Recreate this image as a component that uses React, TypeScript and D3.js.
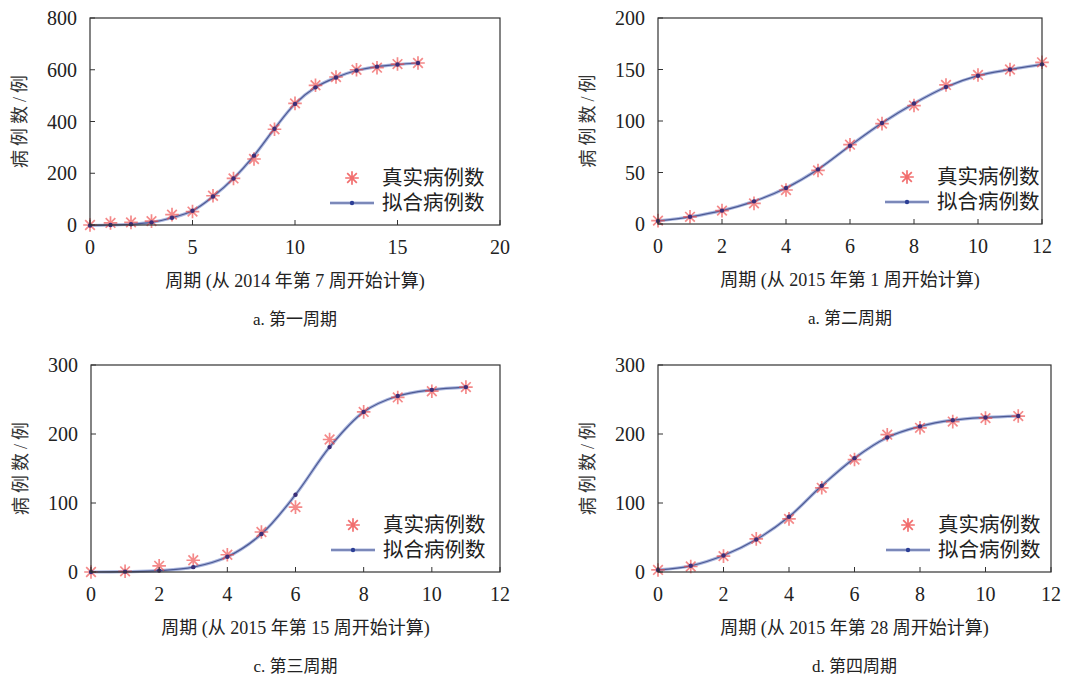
import React from "react";
import * as d3 from "d3";

// ---------- data ----------
const weeksA = d3.range(0, 17);
const realA = [0, 8, 10, 15, 40, 52, 113, 180, 255, 370, 470, 540, 572, 600, 608, 622, 626];
const fitA = [-2, 0, 3, 10, 28, 55, 110, 180, 268, 372, 468, 532, 570, 597, 612, 620, 626];

const weeksB = d3.range(0, 13);
const realB = [3.3, 7, 13, 20, 33, 52, 77, 97.5, 115, 135, 144.7, 150, 157];
const fitB = [3, 7, 13, 22, 35, 53, 76, 98, 117, 133, 144, 150, 155];

const weeksC = d3.range(0, 12);
const realC = [0, 1, 9, 17, 25, 58, 94, 192, 232, 253, 262, 268];
const fitC = [0, 0.5, 2, 7, 22, 55, 112, 181, 232, 255, 264, 268];

const weeksD = d3.range(0, 12);
const realD = [3, 8, 23, 48, 77, 122, 163, 199, 209, 218, 223, 226];
const fitD = [3, 9, 24, 47, 80, 125, 165, 195, 211, 220, 224, 226];

const xTicksA = [0, 5, 10, 15, 20];
const xTicks12 = [0, 2, 4, 6, 8, 10, 12];
const yTicksA = [0, 200, 400, 600, 800];
const yTicksB = [0, 50, 100, 150, 200];
const yTicks300 = [0, 100, 200, 300];

const xTitles = [
  "周期 (从 2014 年第 7 周开始计算)",
  "周期 (从 2015 年第 1 周开始计算)",
  "周期 (从 2015 年第 15 周开始计算)",
  "周期 (从 2015 年第 28 周开始计算)",
];
const captions = ["a. 第一周期", "a. 第二周期", "c. 第三周期", "d. 第四周期"];
const yTitle = "病例数/例";
const legendLabels = ["真实病例数", "拟合病例数"];

const FONT = '"Liberation Serif", "Times New Roman", "Noto Sans CJK SC", serif';

type PanelProps = {
  left: number; top: number; right: number; bottom: number;
  xMax: number; yMax: number;
  xTicks: number[]; yTicks: number[];
  weeks: number[]; real: number[]; fit: number[];
  xTitle: string; caption: string; legendX: number;
};

function starPath(cx: number, cy: number, r: number) {
  const parts: string[] = [];
  for (let i = 0; i < 4; i++) {
    const a = (i * Math.PI) / 4;
    const dx = r * Math.cos(a), dy = r * Math.sin(a);
    parts.push(`M${cx - dx},${cy - dy}L${cx + dx},${cy + dy}`);
  }
  return parts.join("");
}

function Panel(p: PanelProps) {
  const x = d3.scaleLinear().domain([0, p.xMax]).range([p.left, p.right]);
  const y = d3.scaleLinear().domain([0, p.yMax]).range([p.bottom, p.top]);
  const line = d3
    .line<number>()
    .x((_, i) => x(p.weeks[i]))
    .y((d) => y(d))
    .curve(d3.curveCatmullRom.alpha(0.5));
  const path = line(p.fit) || "";
  const axisColor = "#333";
  const cx = (p.left + p.right) / 2;
  const lx = p.legendX;
  return (
    <g fontFamily={FONT}>
      <path d={path} fill="none" stroke="#aab6de" strokeWidth={3.2} />
      <path d={path} fill="none" stroke="#4d5a94" strokeWidth={1.2} />
      {p.real.map((v, i) => (
        <path key={"s" + i} d={starPath(x(p.weeks[i]), y(v), 6.8)} stroke="#ee4a4a" strokeOpacity={0.65} strokeWidth={1.7} fill="none" />
      ))}
      {p.fit.map((v, i) => (
        <circle key={"c" + i} cx={x(p.weeks[i])} cy={y(v)} r={2.2} fill="#3b2f78" />
      ))}
      <rect x={p.left} y={p.top} width={p.right - p.left} height={p.bottom - p.top} fill="none" stroke={axisColor} strokeWidth={1.2} />
      {p.xTicks.map((t) => (
        <g key={"xt" + t}>
          <line x1={x(t)} x2={x(t)} y1={p.bottom} y2={p.bottom - 5} stroke={axisColor} strokeWidth={1} />
          <text x={x(t)} y={p.bottom + 29} textAnchor="middle" fontSize={20} fill="#222">{t}</text>
        </g>
      ))}
      {p.yTicks.map((t) => (
        <g key={"yt" + t}>
          <line x1={p.left} x2={p.left + 5} y1={y(t)} y2={y(t)} stroke={axisColor} strokeWidth={1} />
          <text x={p.left - 13} y={y(t) + 7} textAnchor="end" fontSize={20} fill="#222">{t}</text>
        </g>
      ))}
      <text x={cx} y={p.bottom + 62} textAnchor="middle" fontSize={18} fill="#222">{p.xTitle}</text>
      <text x={cx} y={p.bottom + 100} textAnchor="middle" fontSize={17} fill="#222">{p.caption}</text>
      <text transform={`translate(${p.left - 64},${(p.top + p.bottom) / 2 - 2}) rotate(-90)`} textAnchor="middle" fontSize={18} letterSpacing={4} fill="#333">{yTitle}</text>
      <path d={starPath(lx, p.bottom - 47, 6.8)} stroke="#ee4a4a" strokeOpacity={0.8} strokeWidth={1.7} fill="none" />
      <text x={lx + 30} y={p.bottom - 40} fontSize={20.5} fill="#222">{legendLabels[0]}</text>
      <line x1={lx - 22} x2={lx + 22} y1={p.bottom - 22} y2={p.bottom - 22} stroke="#aab6de" strokeWidth={3.2} />
      <line x1={lx - 22} x2={lx + 22} y1={p.bottom - 22} y2={p.bottom - 22} stroke="#4d5a94" strokeWidth={1.2} />
      <circle cx={lx} cy={p.bottom - 22} r={2.2} fill="#2d3f96" />
      <text x={lx + 30} y={p.bottom - 15} fontSize={20.5} fill="#222">{legendLabels[1]}</text>
    </g>
  );
}

export default function App() {
  return (
    <svg width={1086} height={677} style={{ position: "absolute", left: 0, top: 0, background: "#fff" }}>
      <rect width={1086} height={677} fill="#fff" />
      <Panel left={90} top={18} right={500} bottom={225} xMax={20} yMax={800} xTicks={xTicksA} yTicks={yTicksA}
        weeks={weeksA} real={realA} fit={fitA} xTitle={xTitles[0]} caption={captions[0]} legendX={352} />
      <Panel left={658} top={18} right={1042} bottom={224} xMax={12} yMax={200} xTicks={xTicks12} yTicks={yTicksB}
        weeks={weeksB} real={realB} fit={fitB} xTitle={xTitles[1]} caption={captions[1]} legendX={907} />
      <Panel left={91} top={365} right={500} bottom={572} xMax={12} yMax={300} xTicks={xTicks12} yTicks={yTicks300}
        weeks={weeksC} real={realC} fit={fitC} xTitle={xTitles[2]} caption={captions[2]} legendX={353} />
      <Panel left={658} top={365} right={1051} bottom={572} xMax={12} yMax={300} xTicks={xTicks12} yTicks={yTicks300}
        weeks={weeksD} real={realD} fit={fitD} xTitle={xTitles[3]} caption={captions[3]} legendX={908} />
    </svg>
  );
}
